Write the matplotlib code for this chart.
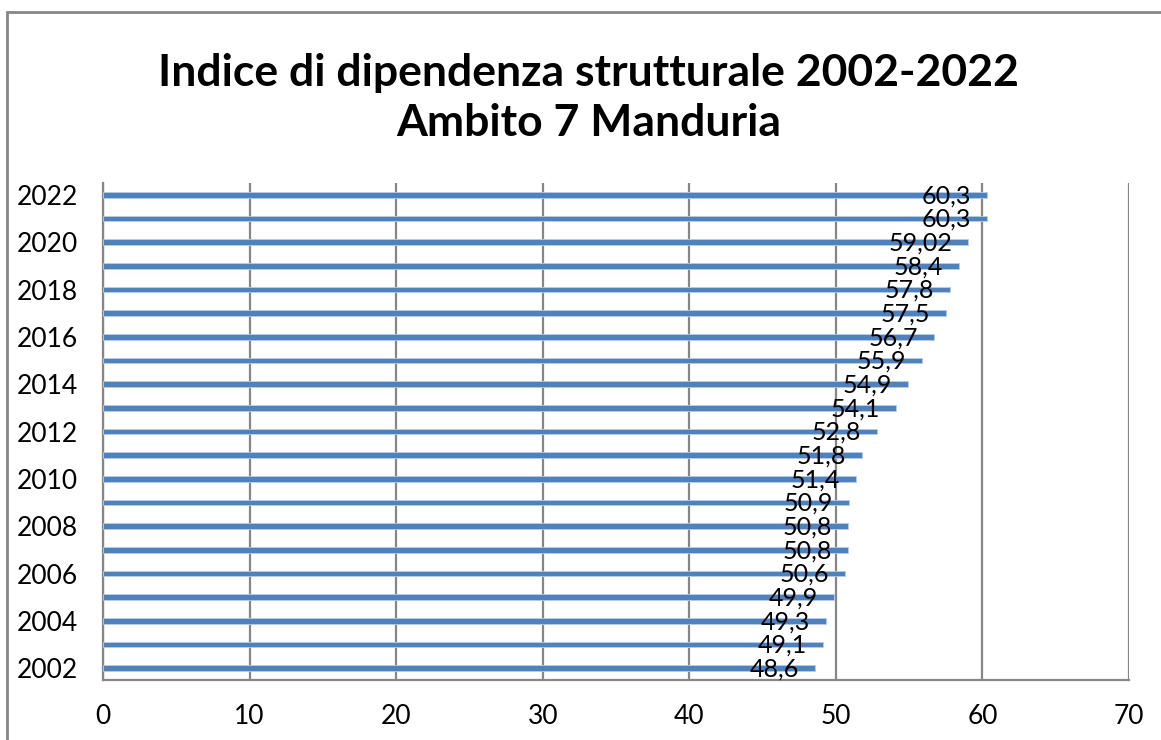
import matplotlib.pyplot as plt
from matplotlib.patches import Rectangle

years = list(range(2002, 2023))
values = [48.6, 49.1, 49.3, 49.9, 50.6, 50.8, 50.8, 50.9, 51.4, 51.8, 52.8,
          54.1, 54.9, 55.9, 56.7, 57.5, 57.8, 58.4, 59.02, 60.3, 60.3]
labels = ["48,6", "49,1", "49,3", "49,9", "50,6", "50,8", "50,8", "50,9", "51,4", "51,8", "52,8",
          "54,1", "54,9", "55,9", "56,7", "57,5", "57,8", "58,4", "59,02", "60,3", "60,3"]
title = "Indice di dipendenza strutturale 2002-2022\nAmbito 7 Manduria"

plt.rcParams['font.family'] = ['Lato', 'DejaVu Sans']
W, H = 1161, 740
fig = plt.figure(figsize=(W / 100, H / 100), dpi=100)
ax = fig.add_axes([103 / W, 1 - 680 / H, (1129 - 103) / W, (680 - 183) / H])

pos = list(range(len(years)))
ax.barh(pos, values, height=0.25, color="#4F81BD", edgecolor="#B9CDE5", linewidth=0.6, zorder=3)
for p, v, lab in zip(pos, values, labels):
    ax.annotate(lab, (v, p), xytext=(-16, -1), textcoords="offset pixels",
                ha="right", va="center", fontsize=18, color="black", zorder=4)

ax.set_xlim(0, 70)
ax.set_ylim(-0.5, len(years) - 0.5)
ax.set_xticks(range(0, 71, 10))
ax.set_yticks(pos[::2])
ax.set_yticklabels([str(y) for y in years[::2]])
ax.tick_params(axis="both", length=0, labelsize=19)
ax.tick_params(axis="x", pad=17)
ax.tick_params(axis="y", pad=18)
ax.grid(axis="x", color="#868686", linewidth=1.6, zorder=1)
for s in ["top", "right"]:
    ax.spines[s].set_visible(False)
for s in ["left", "bottom"]:
    ax.spines[s].set_color("#868686")
    ax.spines[s].set_linewidth(1.6)

fig.text(0.507, 1 - 98 / H, title, ha="center", va="center", fontsize=32,
         fontweight="bold", linespacing=1.3)

fig.patches.append(Rectangle((6.5 / W, -0.1), 1.2, (H - 12.5) / H + 0.1, transform=fig.transFigure,
                             fill=False, edgecolor="#868686", linewidth=2))

fig.savefig("out.png", dpi=100)
